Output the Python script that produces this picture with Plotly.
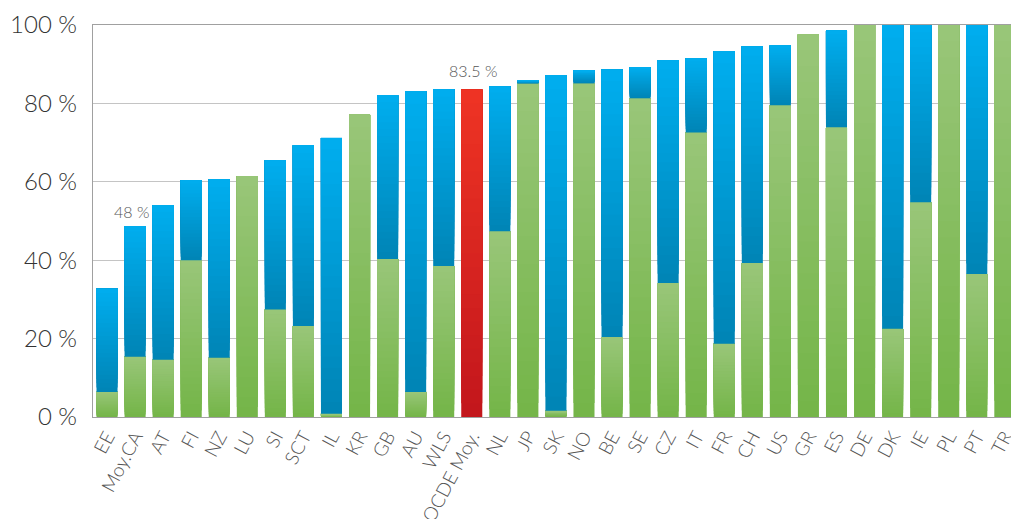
import plotly.graph_objects as go

categories = ["EE", "Moy.CA", "AT", "FI", "NZ", "LU", "SI", "SCT", "IL", "KR", "GB", "AU", "WLS",
              "OCDE Moy.", "NL", "JP", "SK", "NO", "BE", "SE", "CZ", "IT", "FR", "CH", "US", "GR",
              "ES", "DE", "DK", "IE", "PL", "PT", "TR"]
green_share = [6.4, 15.4, 14.6, 40.0, 15.1, 61.4, 27.4, 23.2, 0.8, 77.2, 40.3, 6.4, 38.5,
               0.0, 47.4, 85.1, 1.6, 85.1, 20.4, 81.3, 34.2, 72.6, 18.7, 39.3, 79.5, 97.6,
               73.9, 100.0, 22.5, 54.8, 100.0, 36.5, 100.0]
total_share = [32.7, 48.7, 54.0, 60.4, 60.6, 61.4, 65.5, 69.3, 71.2, 77.2, 82.1, 83.1, 83.6,
               83.5, 84.3, 85.9, 87.2, 88.4, 88.6, 89.2, 91.0, 91.5, 93.3, 94.5, 94.8, 97.6,
               98.6, 100.0, 100.0, 100.0, 100.0, 100.0, 100.0]
highlight = "OCDE Moy."
value_labels = {"Moy.CA": "48 %", "OCDE Moy.": "83.5 %"}
y_tickvals = [0, 20, 40, 60, 80, 100]
y_ticktext = ["0 %", "20 %", "40 %", "60 %", "80 %", "100 %"]

GREEN = ("#74b548", "#99c679")   # bottom, top
BLUE = ("#0084b5", "#00aeef")
RED = ("#c2161c", "#ef3424")
K = 24


def hex2rgb(h):
    h = h.lstrip("#")
    return tuple(int(h[i:i + 2], 16) for i in (0, 2, 4))


def mix(c0, c1, t):
    a, b = hex2rgb(c0), hex2rgb(c1)
    return "rgb(%d,%d,%d)" % tuple(round(a[j] + (b[j] - a[j]) * t) for j in range(3))


lo_g, hi_g, lo_b, hi_b, lo_r, hi_r = [], [], [], [], [], []
for c, g, t in zip(categories, green_share, total_share):
    if c == highlight:
        lo_g.append(None); hi_g.append(None)
        lo_b.append(None); hi_b.append(None)
        lo_r.append(0.0); hi_r.append(t)
    else:
        lo_g.append(0.0 if g > 0 else None); hi_g.append(g if g > 0 else None)
        lo_b.append(g if t > g else None); hi_b.append(t if t > g else None)
        lo_r.append(None); hi_r.append(None)
segments = [(lo_g, hi_g, GREEN), (lo_b, hi_b, BLUE), (lo_r, hi_r, RED)]

fig = go.Figure()
for lo, hi, cols in segments:
    for i in range(K):
        base, height = [], []
        for a, b in zip(lo, hi):
            if a is None:
                base.append(None); height.append(None)
            else:
                bb = a + (b - a) * i / K
                base.append(bb); height.append(b - bb)
        fig.add_trace(go.Bar(
            x=list(range(len(categories))), y=height, base=base,
            marker=dict(color=mix(cols[0], cols[1], (i + 0.5) / K), line=dict(width=0)),
            hoverinfo="skip", showlegend=False,
        ))

for c, txt in value_labels.items():
    idx = categories.index(c)
    fig.add_annotation(
        x=idx, y=total_share[idx], text=txt, showarrow=False,
        yanchor="bottom", xanchor="center",
        xshift=-4 if c == "Moy.CA" else 1, yshift=3 if c == "Moy.CA" else 8,
        font=dict(family="Lato", size=16, color="#555555", weight=300),
    )

fig.update_layout(
    width=1011, height=519,
    margin=dict(l=93, r=0, t=25, b=102, autoexpand=False),
    barmode="overlay", bargap=0.25,
    plot_bgcolor="white", paper_bgcolor="white",
    font=dict(family="Lato", color="#333333"),
    xaxis=dict(
        range=[-0.5, 32.22], tickmode="array",
        tickvals=list(range(len(categories))), ticktext=categories,
        tickangle=-62, showgrid=False, zeroline=False,
        showline=True, linecolor="#a0a0a0", linewidth=1.3, mirror=True,
        ticks="", automargin=False, ticklabeloverflow="allow",
        tickfont=dict(family="Lato", size=19, color="#555555", weight=300),
    ),
    yaxis=dict(
        range=[0, 100], tickmode="array", tickvals=y_tickvals, ticktext=y_ticktext,
        showgrid=True, gridcolor="#c4c4c4", gridwidth=1.3, zeroline=False,
        showline=True, linecolor="#a0a0a0", linewidth=1.3,
        ticks="", automargin=False, ticklabelstandoff=10,
        tickfont=dict(family="Lato", size=24, color="#333333", weight=300),
    ),
)

fig.write_html("out.html")
